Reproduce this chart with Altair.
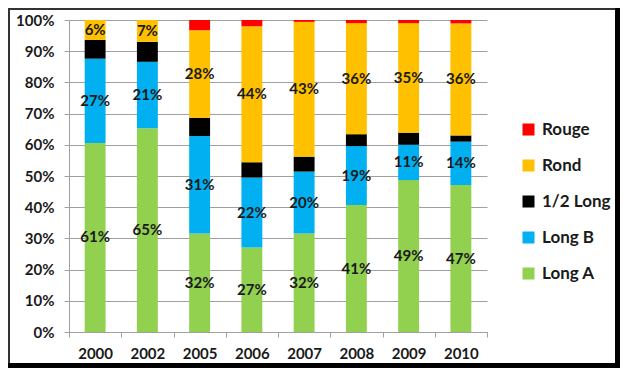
import altair as alt
import pandas as pd

years = ["2000", "2002", "2005", "2006", "2007", "2008", "2009", "2010"]
series = ["Long A", "Long B", "1/2 Long", "Rond", "Rouge"]
long_a = [60.6, 65.3, 31.6, 27.1, 31.6, 40.7, 48.7, 47.1]
long_b = [27.0, 21.3, 31.2, 22.4, 19.8, 18.9, 11.3, 13.9]
half_long = [6.0, 6.4, 5.9, 4.9, 4.8, 3.8, 3.9, 2.0]
rond = [6.4, 7.0, 28.0, 43.6, 43.2, 35.6, 35.1, 35.9]
rouge = [0.0, 0.0, 3.3, 2.0, 0.6, 1.0, 1.0, 1.1]
colors = ["#92d050", "#00b0f0", "#000000", "#ffc000", "#ff0000"]
labeled = ["Long A", "Long B", "Rond"]
y_ticks = [0, 10, 20, 30, 40, 50, 60, 70, 80, 90, 100]

rows = []
for si, (name, vals) in enumerate(zip(series, [long_a, long_b, half_long, rond, rouge])):
    for yr, v in zip(years, vals):
        rows.append({"year": yr, "series": name, "value": v, "idx": si})
df = pd.DataFrame(rows)

FONT = "Lato"
TXT = "#1a1a1a"
GRID = "#a0a0a0"

x_axis = alt.Axis(
    title=None, labelAngle=0, tickBand="extent", grid=False,
    domainColor=GRID, tickColor=GRID, tickSize=5,
    labelFont=FONT, labelFontSize=15, labelFontWeight="bold",
    labelColor=TXT, labelPadding=9, labelOverlap=False,
)
y_axis = alt.Axis(
    title=None, values=y_ticks, labelExpr="datum.value + '%'",
    grid=True, gridColor=GRID, domainColor=GRID, tickColor=GRID,
    tickSize=5, labelFont=FONT, labelFontSize=15,
    labelFontWeight="bold", labelColor=TXT, labelPadding=10,
    labelOverlap=False,
)
x_scale = alt.Scale(paddingInner=0, paddingOuter=0)
y_scale = alt.Scale(domain=[0, 100], nice=False)

bars = alt.Chart(df).mark_bar(width=alt.RelativeBandSize(band=0.4)).encode(
    x=alt.X("year:N", sort=years, scale=x_scale, axis=x_axis),
    y=alt.Y("value:Q", stack="zero", scale=y_scale, axis=y_axis),
    color=alt.Color(
        "series:N",
        scale=alt.Scale(domain=series[::-1], range=colors[::-1]),
        legend=alt.Legend(
            title=None, orient="none", legendX=451, legendY=101,
            symbolType="square", symbolSize=144, symbolStrokeWidth=0,
            symbolOpacity=1, labelFont=FONT, labelFontSize=17,
            labelFontWeight="bold", labelColor=TXT, rowPadding=18,
            padding=0, labelOffset=5,
        ),
    ),
    order=alt.Order("idx:Q", sort="ascending"),
)

text = (
    alt.Chart(df)
    .transform_window(
        cum="sum(value)", sort=[alt.SortField("idx")], groupby=["year"],
        frame=[None, 0],
    )
    .transform_calculate(
        mid="datum.cum - datum.value / 2",
        label="format(round(datum.value), 'd') + '%'",
    )
    .transform_filter(alt.FieldOneOfPredicate(field="series", oneOf=labeled))
    .mark_text(font=FONT, fontSize=15, fontWeight="bold", color=TXT)
    .encode(
        x=alt.X("year:N", sort=years, scale=x_scale, axis=x_axis),
        y=alt.Y("mid:Q", scale=y_scale, axis=y_axis),
        text="label:N",
    )
)

one = pd.DataFrame({"k": [0]})
frame_top = alt.Chart(one).mark_rule(color="#333333", strokeWidth=2).encode(
    x=alt.value(-61), x2=alt.value(551), y=alt.value(-11))
frame_left = alt.Chart(one).mark_rule(color="#333333", strokeWidth=2).encode(
    x=alt.value(-60), y=alt.value(-12), y2=alt.value(348))
frame_right = alt.Chart(one).mark_rule(color="#000000", strokeWidth=5).encode(
    x=alt.value(548.5), y=alt.value(-12), y2=alt.value(348))
frame_bottom = alt.Chart(one).mark_rule(color="#000000", strokeWidth=5).encode(
    x=alt.value(-61), x2=alt.value(551), y=alt.value(345.5))

chart = (
    alt.layer(bars, text, frame_top, frame_left, frame_right, frame_bottom)
    .properties(
        width=418, height=312,
        autosize=alt.AutoSizeParams(type="none"),
        padding={"left": 61, "top": 12, "right": 133, "bottom": 36},
        background="white",
    )
    .configure_view(stroke=None)
)

chart.save("out.html", embed_options={"renderer": "svg", "actions": False})
